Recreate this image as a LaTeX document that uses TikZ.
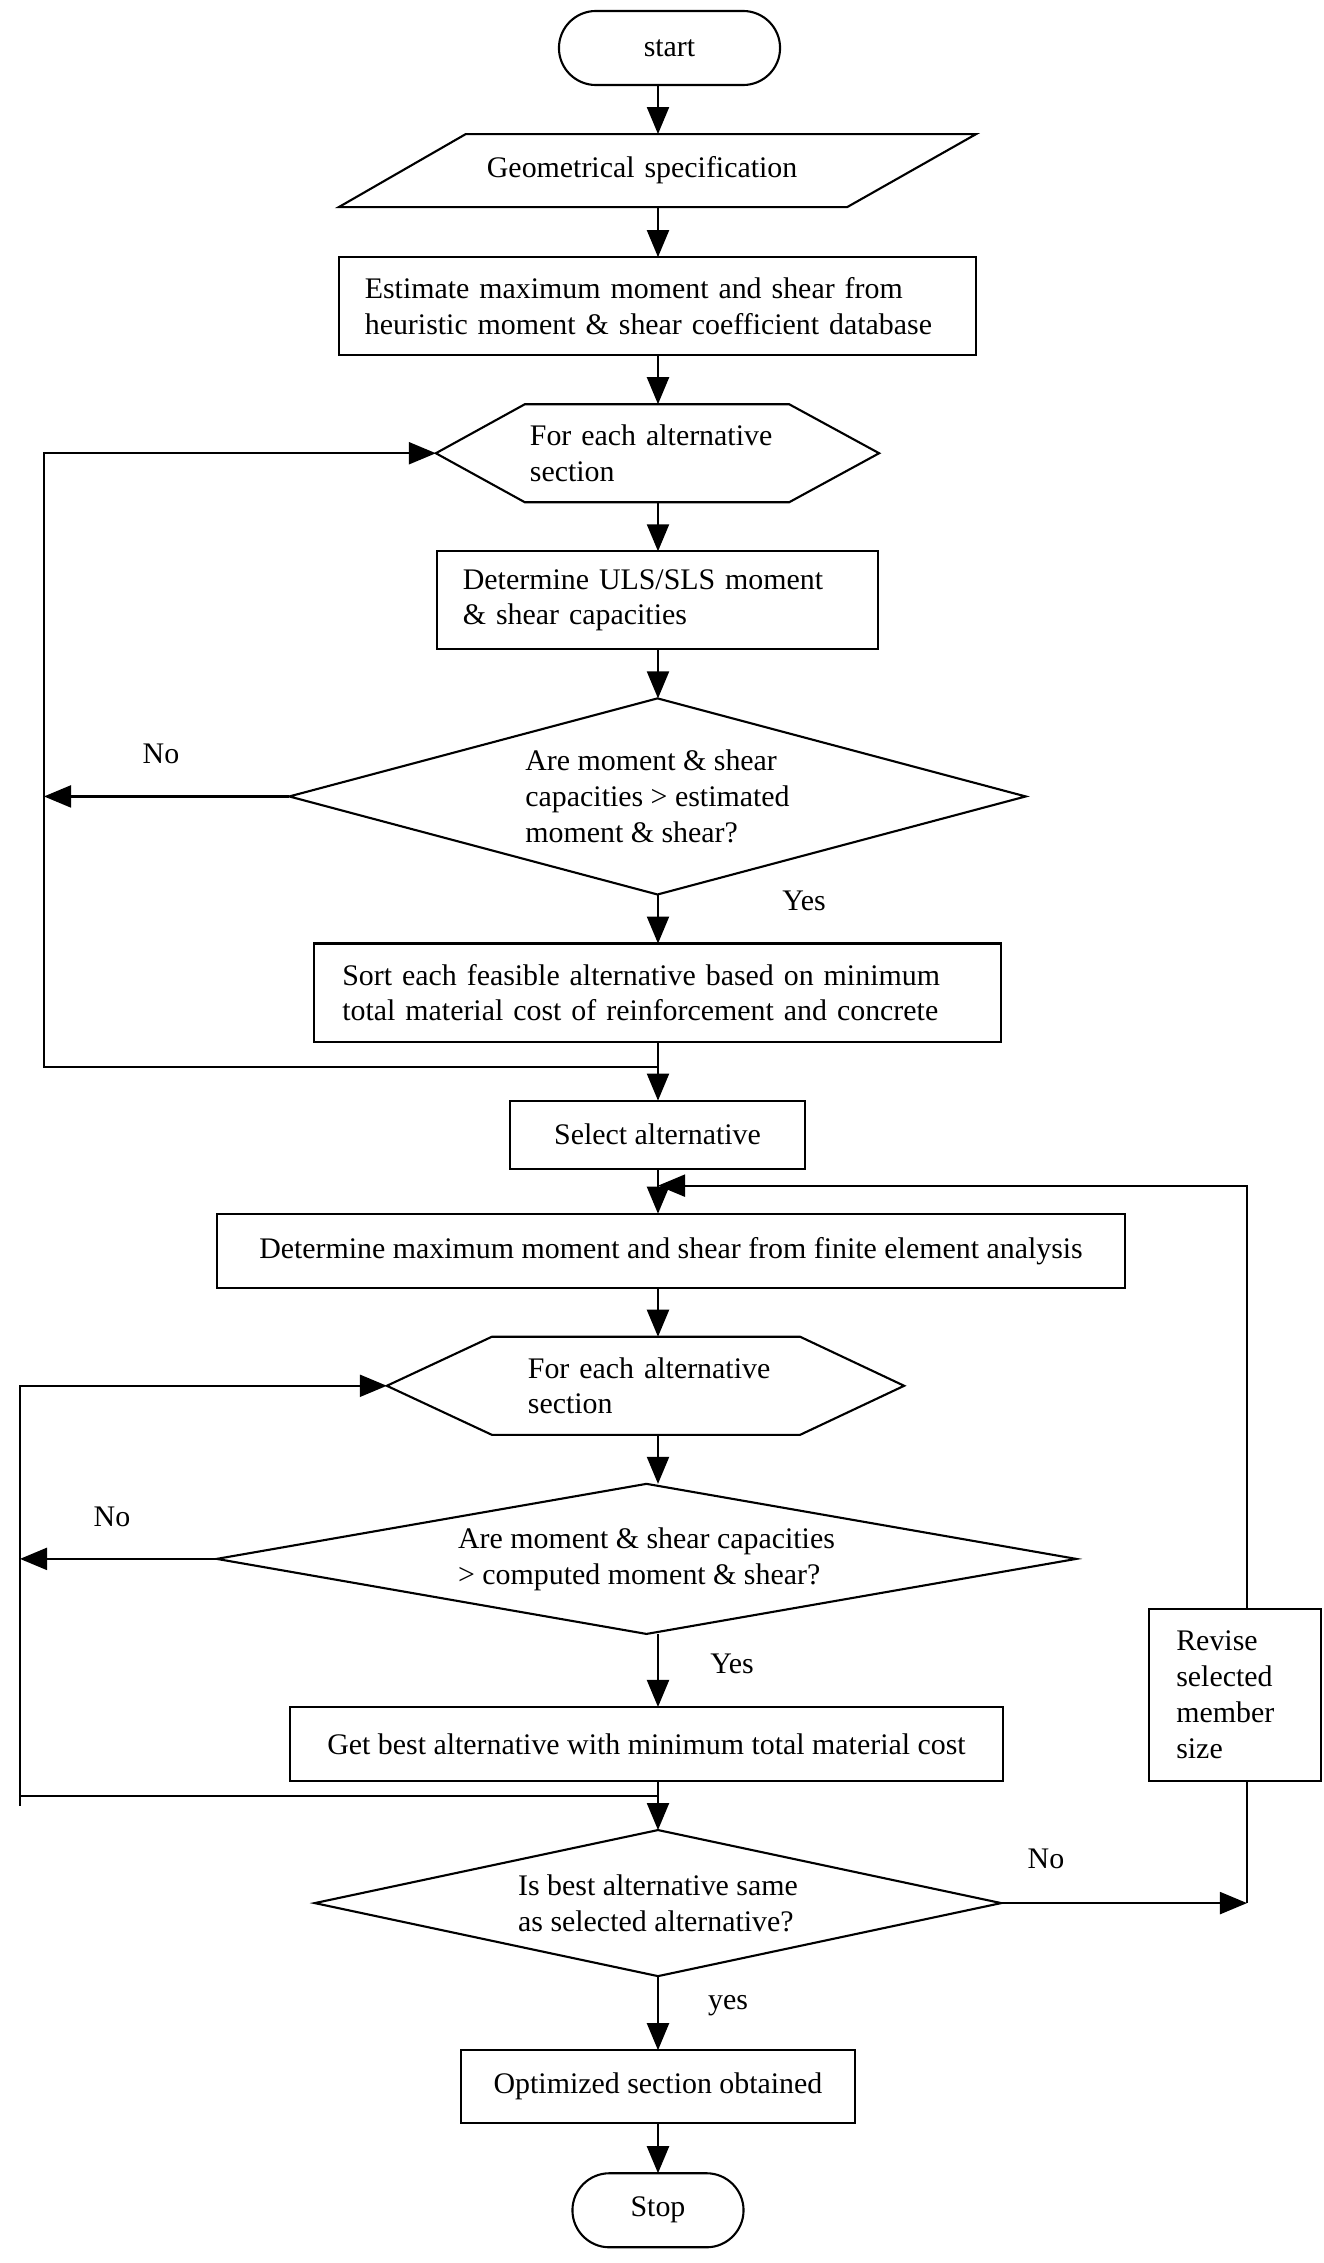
\documentclass[tikz,border=0pt]{standalone}
\usepackage{fontspec}
\setmainfont{Liberation Serif}
\usetikzlibrary{positioning,calc,shapes.geometric,arrows.meta}

\begin{document}
\begin{tikzpicture}[
        x=0.01cm, y=-0.01cm,          % one unit = one pixel, y down
        node distance=0.49cm,         % gap between blocks
        every node/.style={
            outer sep=0pt,
            font=\fontsize{8.5}{10.2}\selectfont
        },
        >={Triangle[length=0.27cm,width=0.22cm]},
        line width=0.6pt,
        arrow/.style={->},
        term/.style={draw, rectangle, rounded corners=0.37cm, minimum height=0.74cm},
        io/.style={rectangle, align=left, minimum height=0.73cm},
        hexa/.style={rectangle, align=left, minimum height=0.98cm},
        box/.style={draw, rectangle, align=left},
        cond/.style={draw, diamond, inner sep=0pt, align=left},
        lbl/.style={inner sep=0pt}
    ]
        \useasboundingbox (0,0) rectangle (1324,2263);

        % 节点
        \node (start) [term, minimum width=2.21cm] at (669.5,48) {start};
        \node (geo) [io, below=of start, xshift=-0.12cm, text width=3.41cm, inner xsep=1.48cm] {Geometrical specification};
        \node (est) [box, below=0.5cm of geo, text width=5.85cm, inner xsep=0.26cm, minimum height=0.98cm] {Estimate maximum moment and shear from\\heuristic moment \& shear coefficient database};
        \node (hex1) [hexa, below=of est, text width=2.55cm, inner xsep=0.94cm] {For each alternative\\section};
        \node (uls) [box, below=of hex1, text width=3.89cm, inner xsep=0.26cm, minimum height=0.98cm] {Determine ULS/SLS moment\\\& shear capacities};
        \node (d1) [cond, below=of uls, minimum width=7.36cm, minimum height=1.96cm, aspect=3.75] {Are moment \& shear\\capacities > estimated\\moment \& shear?};
        \node (sort) [box, below=of d1, text width=6.3cm, inner xsep=0.28cm, minimum height=0.98cm] {Sort each feasible alternative based on minimum\\total material cost of reinforcement and concrete};
        \node (sel) [box, below=0.59cm of sort, minimum width=2.95cm, minimum height=0.68cm] {Select alternative};
        \node (fe) [box, below=0.45cm of sel, xshift=0.135cm, minimum width=9.08cm, minimum height=0.74cm] {Determine maximum moment and shear from finite element analysis};
        \node (hex2) [hexa, below=of fe, xshift=-0.255cm, text width=2.75cm, inner xsep=1.21cm] {\hspace*{0.2cm}For each alternative\\\hspace*{0.2cm}section};
        \node (d2) [cond, below=of hex2, xshift=0.01cm, minimum width=8.59cm, minimum height=1.5cm, aspect=5.7] {Are moment \& shear capacities\\> computed moment \& shear?};
        \node (best) [box, below=0.73cm of d2, minimum width=7.13cm, minimum height=0.74cm] {Get best alternative with minimum total material cost};
        \node (d3) [cond, below=of best, xshift=0.115cm, minimum width=6.86cm, minimum height=1.46cm, aspect=4.7] {Is best alternative same\\as selected alternative?};
        \node (opt) [box, below=0.74cm of d3, minimum width=3.93cm, minimum height=0.73cm] {Optimized section obtained};
        \node (stop) [term, below=0.5cm of opt, minimum width=1.71cm] {Stop};
        \node (rev) [box, anchor=south west, xshift=1.46cm, text width=1.18cm, inner xsep=0.27cm, minimum height=1.72cm] at (best.south east) {Revise\\selected\\member\\size};

        % 外形
        \draw (geo.south west) -- ($(geo.north west)+(127,0)$) -- (geo.north east) -- ($(geo.south east)+(-129,0)$) -- cycle;
        \draw (hex1.west) -- ($(hex1.north west)+(89,0)$) -- ($(hex1.north east)+(-90,0)$) -- (hex1.east)
            -- ($(hex1.south east)+(-90,0)$) -- ($(hex1.south west)+(89,0)$) -- cycle;
        \draw (hex2.west) -- ($(hex2.north west)+(105,0)$) -- ($(hex2.north east)+(-104,0)$) -- (hex2.east)
            -- ($(hex2.south east)+(-104,0)$) -- ($(hex2.south west)+(105,0)$) -- cycle;

        % 标签
        \node (no1) [lbl] at (161,754) {No};
        \node (yes1) [lbl] at (804,901) {Yes};
        \node (no2) [lbl] at (112,1517) {No};
        \node (yes2) [lbl] at (732,1664) {Yes};
        \node (no3) [lbl] at (1046,1859) {No};
        \node (yes3) [lbl] at (728,2006) {yes};

        % 边
        \coordinate (cx) at (658,0);
        \coordinate (lx) at (44,0);
        \coordinate (lx2) at (20,0);
        \coordinate (rx) at (1247,0);
        \draw[arrow] (start.south -| cx) -- (geo.north -| cx);
        \draw[arrow] (geo.south -| cx) -- (est.north -| cx);
        \draw[arrow] (est.south -| cx) -- (hex1.north -| cx);
        \draw[arrow] (hex1.south -| cx) -- (uls.north -| cx);
        \draw[arrow] (uls.south -| cx) -- (d1.north -| cx);
        \draw[arrow] (d1.south -| cx) -- (sort.north -| cx);
        \draw[arrow] (sort.south -| cx) -- (sel.north -| cx);
        \draw[arrow] (sel.south -| cx) -- (fe.north -| cx);
        \draw[arrow] (fe.south -| cx) -- (hex2.north -| cx);
        \draw[arrow] (hex2.south -| cx) -- (d2.north -| cx);
        \draw[arrow] (d2.south -| cx) -- (best.north -| cx);
        \draw[arrow] (best.south -| cx) -- (d3.north -| cx);
        \draw[arrow] (d3.south -| cx) -- (opt.north -| cx);
        \draw[arrow] (opt.south -| cx) -- (stop.north -| cx);
        % 循环
        \coordinate (j1) at ($(sort.south -| cx)+(0,25)$);
        \draw[arrow] (j1) -- (j1 -| lx) -- (lx |- hex1.west) -- (hex1.west);
        \draw[arrow] (d1.west) -- (d1.west -| lx);
        \coordinate (j2) at ($(best.south -| cx)+(0,15)$);
        \draw[arrow] (j2) -- (j2 -| lx2) -- (lx2 |- hex2.west) -- (hex2.west);
        \draw (j2 -| lx2) -- ++(0,10);
        \draw[arrow] (d2.west) -- (d2.west -| lx2);
        \coordinate (m2) at ($(sel.south -| cx)+(0,17)$);
        \draw[arrow] (rev.north -| rx) -- (rx |- m2) -- (m2);
        \draw[arrow] (d3.east) -- (d3.east -| rx);
        \draw (rev.south -| rx) -- (d3.east -| rx);
    \end{tikzpicture}
\end{document}
